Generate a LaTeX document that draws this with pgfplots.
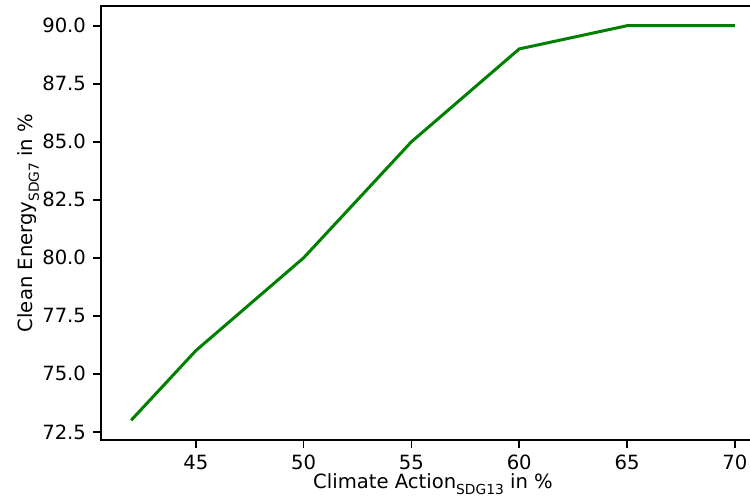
\documentclass[border=0pt]{standalone}
\usepackage{pgfplots}
\pgfplotsset{compat=1.18}
\usepackage{fontspec}
\setmainfont{DejaVu Sans}
\definecolor{mplgreen}{RGB}{0,128,0}
\newcommand{\sub}[1]{\raisebox{-0.3em}{\fontsize{6.9}{7}\selectfont #1}}
\begin{document}
\begin{tikzpicture}
\useasboundingbox (0,0) rectangle (375pt,248pt);
\clip (0,0) rectangle (375pt,248pt);
\begin{axis}[
  at={(50.5pt,28pt)}, anchor=south west,
  scale only axis, width=332pt, height=217pt,
  xmin=40.6, xmax=71.4, ymin=72.15, ymax=90.85,
  xtick={45,50,55,60,65,70},
  ytick={72.5,75,77.5,80,82.5,85,87.5,90},
  yticklabel style={/pgf/number format/.cd, fixed, fixed zerofill, precision=1},
  /pgf/number format/assume math mode=true,
  tick align=outside, xtick pos=lower, ytick pos=left,
  major tick length=4pt,
  every tick/.style={black, line width=0.8pt},
  axis line style={line width=0.8pt},
  font=\fontsize{9.8}{11}\selectfont,
  ticklabel style={font=\fontsize{9.8}{11}\selectfont},
  xlabel={Climate Action\sub{SDG13} in \%},
  ylabel={Clean Energy\sub{SDG7} in \%},
  xlabel style={at={(axis description cs:0.5,0)}, anchor=base, yshift=-24.5pt},
  ylabel style={at={(axis description cs:0,0.5)}, anchor=base, yshift=34pt},
]
\addplot[mplgreen, line width=1.5pt] coordinates {
(42,73) (45,76) (50,80) (55,85) (60,89) (65,90) (70,90)
};
\end{axis}
\end{tikzpicture}
\end{document}
